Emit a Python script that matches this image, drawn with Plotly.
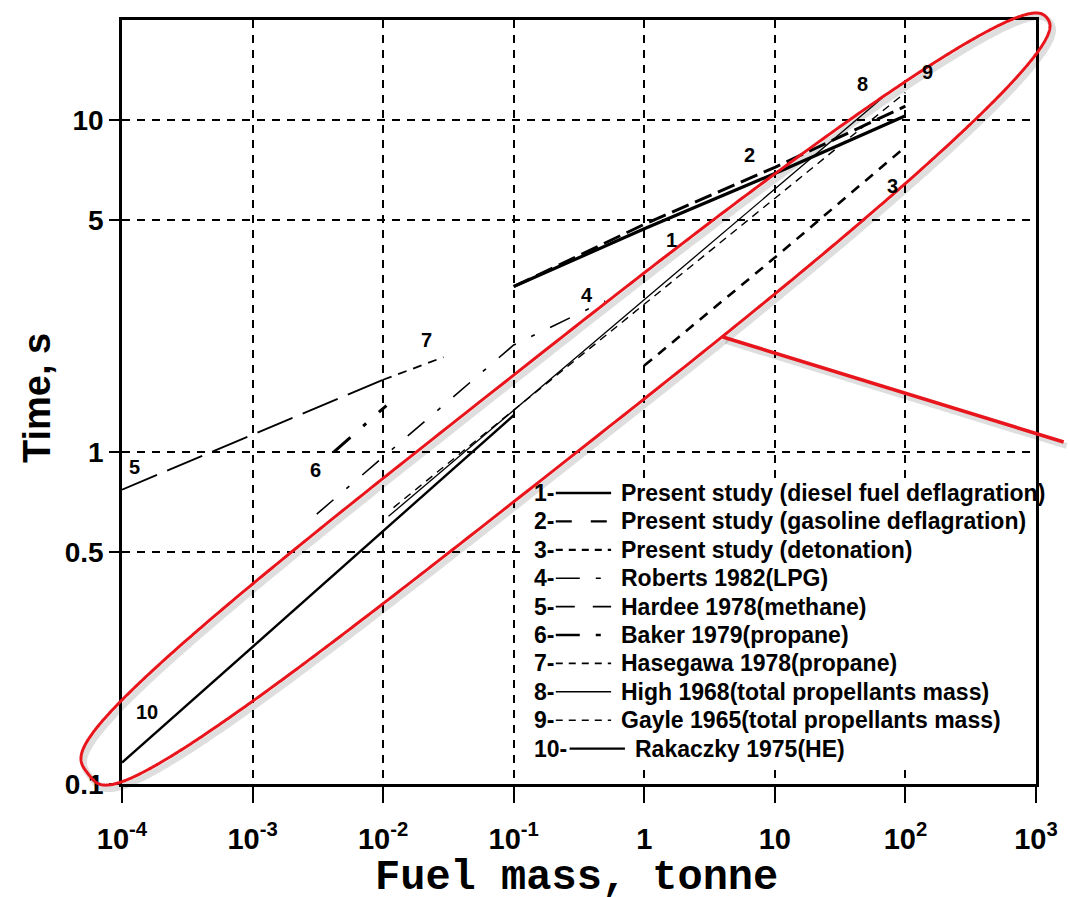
import numpy as np
import plotly.graph_objects as go

# ---- fireball duration correlations: fuel mass (tonne) vs time (s) ----
m1 = [0.1, 1, 10, 100]
t1 = [3.15, 4.7, 6.9, 10.3]          # present study, diesel deflagration
m2 = [0.1, 1, 10, 100]
t2 = [3.15, 4.85, 7.2, 11.0]         # present study, gasoline deflagration
m3 = [1, 10, 100]
t3 = [1.82, 3.85, 8.3]               # present study, detonation
m4 = [0.0031, 0.1, 0.5]
t4 = [0.65, 2.1, 2.85]               # Roberts 1982
m5 = [0.0001, 0.01]
t5 = [0.77, 1.65]                    # Hardee 1978
m6 = [0.0042, 0.0106]
t6 = [1.0, 1.38]                     # Baker 1979
m7 = [0.01, 0.029]
t7 = [1.65, 1.93]                    # Hasegawa 1978
m8 = [0.011, 71]
t8 = [0.64, 11.9]                    # High 1968
m9 = [0.012, 100]
t9 = [0.68, 12.1]                    # Gayle 1965
m10 = [0.0001, 0.1]
t10 = [0.116, 1.29]                  # Rakaczky 1975

labels = [
    "Present study (diesel fuel deflagration)",
    "Present study (gasoline deflagration)",
    "Present study (detonation)",
    "Roberts 1982(LPG)",
    "Hardee 1978(methane)",
    "Baker 1979(propane)",
    "Hasegawa 1978(propane)",
    "High 1968(total propellants mass)",
    "Gayle 1965(total propellants mass)",
    "Rakaczky 1975(HE)",
]

x_tickvals = [1e-4, 1e-3, 1e-2, 1e-1, 1, 10, 100, 1000]
x_ticktext = ["10<sup>-4</sup>", "10<sup>-3</sup>", "10<sup>-2</sup>", "10<sup>-1</sup>",
              "1", "10", "10<sup>2</sup>", "10<sup>3</sup>"]
y_tickvals = [0.1, 0.5, 1, 5, 10]
y_ticktext = ["0.1", "0.5", "1", "5", "10"]

# ---- line styles (plot lines and key samples) ----
dashes = ["solid", "18px,7px", "10px,8px", "22px,17px,4px,17px", "38px,11px",
          "22px,17px,4px,17px", "9px,7px", "solid", "8px,6px", "solid"]
widths = [3.2, 3.0, 2.6, 1.6, 1.8, 3.0, 1.8, 1.3, 1.4, 2.4]
key_dashes = ["solid", "16px,19px", "7px,6px", "24px,16px,5px,20px", "19px,18px",
              "24px,16px,5px,20px", "7px,6px", "solid", "7px,6px", "solid"]
key_widths = [2.6, 2.4, 2.2, 1.6, 1.8, 2.6, 1.8, 1.6, 1.6, 2.2]

series = [(m1, t1), (m2, t2), (m3, t3), (m4, t4), (m5, t5),
          (m6, t6), (m7, t7), (m8, t8), (m9, t9), (m10, t10)]

SANS = "Arial, Liberation Sans, sans-serif"
MONO = "Courier New, Liberation Mono, monospace"

W, H = 1070, 897
L, R, T, B = 122, 1047, 20, 784


def px(xp):
    return (xp - L) / (R - L)


def py(yp):
    return (B - yp) / (B - T)


fig = go.Figure()
for (m, t), d, w in zip(series, dashes, widths):
    fig.add_trace(go.Scatter(x=m, y=t, mode="lines",
                             line=dict(color="black", width=w, dash=d),
                             showlegend=False, hoverinfo="skip"))

annotations = []
shapes = []

# white panel behind the key (hides the grid there)
shapes.append(dict(type="rect", xref="paper", yref="paper",
                   x0=px(527), x1=px(1043), y0=py(767), y1=py(479),
                   fillcolor="white", line=dict(width=0), layer="above"))

# curve numbers next to the lines
curve_tags = [("1", 678, 240), ("2", 757, 155), ("3", 902, 186), ("4", 593, 295),
              ("5", 135, 467), ("6", 318, 470), ("7", 430, 340), ("8", 871, 84),
              ("9", 937, 72), ("10", 147, 712)]
for txt, xp, yp in curve_tags:
    annotations.append(dict(text=txt, x=px(xp), y=py(yp), xref="paper", yref="paper",
                            showarrow=False, xanchor="center", yanchor="middle",
                            font=dict(family=SANS, size=20, color="black", weight="bold")))

# key drawn inside the axes
row0, step = 493, 28.4
for i, lab in enumerate(labels):
    yrow = row0 + i * step
    shift = 14 if i == 9 else 0
    annotations.append(dict(text=f"{i + 1}-", x=px(537), y=py(yrow), xref="paper", yref="paper",
                            showarrow=False, xanchor="left", yanchor="middle",
                            font=dict(family=SANS, size=23, color="black", weight="bold")))
    shapes.append(dict(type="line", xref="paper", yref="paper",
                       x0=px(561 + shift), x1=px(617 + shift), y0=py(yrow), y1=py(yrow),
                       line=dict(color="black", width=key_widths[i], dash=key_dashes[i]),
                       layer="above"))
    annotations.append(dict(text=lab, x=px(625 + shift), y=py(yrow), xref="paper", yref="paper",
                            showarrow=False, xanchor="left", yanchor="middle",
                            font=dict(family=SANS, size=23, color="black", weight="bold")))

# axis titles
annotations.append(dict(text="Time, s", x=px(36), y=py(398), xref="paper", yref="paper",
                        showarrow=False, textangle=-90, xanchor="center", yanchor="middle",
                        font=dict(family=SANS, size=38, color="black", weight="bold")))
annotations.append(dict(text="Fuel mass, tonne", x=px(582), y=py(878), xref="paper", yref="paper",
                        showarrow=False, xanchor="center", yanchor="middle",
                        font=dict(family=MONO, size=42, color="black", weight="bold")))

# red highlight loop (rounded superellipse, blunter at the lower-left end)
cx, cy, a, b, ang = 573.0, 396.0, 615.0, 50.0, np.radians(37.9)
tt = np.linspace(0, 2 * np.pi, 721)
expo = np.where(np.cos(tt) < 0, 3.5, 2.5)
cu = np.sign(np.cos(tt)) * np.abs(np.cos(tt)) ** (2 / expo) * a
sv = np.sign(np.sin(tt)) * np.abs(np.sin(tt)) ** (2 / expo) * b
ex = cx + cu * np.cos(ang) - sv * np.sin(ang)
ey = cy - (cu * np.sin(ang) + sv * np.cos(ang))


def path_of(xs, ys):
    pts = [f"{px(u):.5f},{py(v):.5f}" for u, v in zip(xs, ys)]
    return "M " + " L ".join(pts) + " Z"


shapes.append(dict(type="path", xref="paper", yref="paper", path=path_of(ex + 3, ey + 4),
                   line=dict(color="rgba(0,0,0,0.13)", width=6), layer="above"))
shapes.append(dict(type="path", xref="paper", yref="paper", path=path_of(ex, ey),
                   line=dict(color="#e8161c", width=3), layer="above"))
shapes.append(dict(type="line", xref="paper", yref="paper",
                   x0=px(733), y0=py(341), x1=px(1078), y1=py(446),
                   line=dict(color="rgba(0,0,0,0.13)", width=6), layer="above"))
shapes.append(dict(type="line", xref="paper", yref="paper",
                   x0=px(730), y0=py(337), x1=px(1075), y1=py(442),
                   line=dict(color="#e8161c", width=3.5), layer="above"))

fig.update_layout(
    width=W, height=H,
    margin=dict(l=L, r=W - R, t=T, b=H - B),
    paper_bgcolor="white", plot_bgcolor="white",
    annotations=annotations, shapes=shapes,
    showlegend=False,
)
fig.update_xaxes(
    type="log", range=[-4, 3],
    tickvals=x_tickvals, ticktext=x_ticktext,
    tickfont=dict(family=SANS, size=29, color="black", weight="bold"),
    ticks="outside", ticklen=16, tickwidth=2, tickcolor="black", ticklabelstandoff=11,
    showline=True, linewidth=2.5, linecolor="black", mirror=True,
    showgrid=True, gridcolor="black", gridwidth=1.5, griddash="8px,7px",
)
fig.update_yaxes(
    type="log", range=[-1, np.log10(20)],
    tickvals=y_tickvals, ticktext=y_ticktext,
    tickfont=dict(family=SANS, size=28, color="black", weight="bold"),
    ticks="outside", ticklen=10, tickwidth=2, tickcolor="black", ticklabelstandoff=0,
    showline=True, linewidth=2.5, linecolor="black", mirror=True,
    showgrid=True, gridcolor="black", gridwidth=1.5, griddash="8px,7px",
)

fig.write_html("out.html")
